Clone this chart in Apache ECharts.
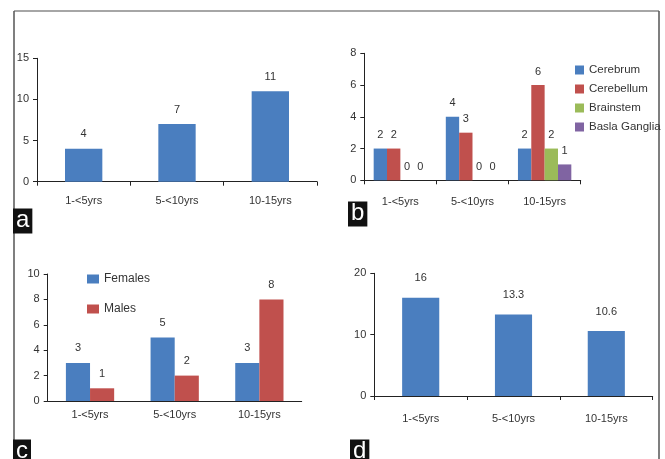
<!DOCTYPE html>
<html><head><meta charset="utf-8">
<script src="https://cdn.jsdelivr.net/npm/echarts@6/dist/echarts.min.js"></script>
<style>html,body{margin:0;padding:0;background:#fff}#c{width:665px;height:459px}</style>
</head><body><div id="c"></div>
<script>
const categories = ['1-<5yrs', '5-<10yrs', '10-15yrs'];
// panel a
const countsA = [4, 7, 11];
// panel b
const cerebrum = [2, 4, 2];
const cerebellum = [2, 3, 6];
const brainstem = [0, 0, 2];
const baslaGanglia = [0, 0, 1];
// panel c
const females = [3, 5, 3];
const males = [1, 2, 8];
// panel d
const valuesD = [16, 13.3, 10.6];

const BLUE = '#4A7EBF', RED = '#C0504D', GREEN = '#9BBB59', PURPLE = '#8064A2';
const FONT = 'Liberation Sans, Arial, sans-serif';
const lbl = (dist) => ({show: true, position: 'top', distance: dist, color: '#333', fontSize: 11, fontFamily: FONT});

function xAx(gi, margin, ticks) {
  return {type: 'category', gridIndex: gi, data: categories,
    axisLine: {lineStyle: {color: '#222', width: 1}},
    axisTick: {show: ticks, length: 4, alignWithLabel: false, lineStyle: {color: '#222'}},
    axisLabel: {color: '#333', fontSize: 11, fontFamily: FONT, margin: margin}};
}
function yAx(gi, max, interval) {
  return {type: 'value', gridIndex: gi, min: 0, max: max, interval: interval,
    axisLine: {show: true, lineStyle: {color: '#222', width: 1}},
    axisTick: {show: true, length: 4, lineStyle: {color: '#222'}},
    splitLine: {show: false},
    axisLabel: {color: '#333', fontSize: 11, fontFamily: FONT, margin: 8}};
}
const letter = (t, left, top) => ({text: t, left: left, top: top, backgroundColor: '#111', padding: [0, 3, 1, 3],
  textStyle: {color: '#fff', fontSize: 24, fontWeight: 'normal', fontFamily: FONT, lineHeight: 21}});

const chart = echarts.init(document.getElementById('c'));
chart.setOption({
  animation: false,
  backgroundColor: '#fff',
  title: [letter('a', 13, 210), letter('b', 348, 203), letter('c', 13, 441), letter('d', 350, 441)],
  grid: [
    {left: 37, top: 58.3, width: 280, height: 123.4},
    {left: 364.3, top: 53.3, width: 216.4, height: 127},
    {left: 47.7, top: 274, width: 254, height: 127},
    {left: 374.3, top: 273.3, width: 278.4, height: 122.7}
  ],
  xAxis: [xAx(0, 14, true), xAx(1, 16, true), xAx(2, 8, false), xAx(3, 17, true)],
  yAxis: [yAx(0, 15, 5), yAx(1, 8, 2), yAx(2, 10, 2), yAx(3, 20, 10)],
  legend: [
    {data: ['Cerebrum', 'Cerebellum', 'Brainstem', 'Basla Ganglia'], orient: 'vertical', left: 575, top: 64, padding: 0,
      itemWidth: 9, itemHeight: 9, itemGap: 7, icon: 'rect',
      textStyle: {color: '#333', fontSize: 11.5, fontFamily: FONT}},
    {data: ['Females', 'Males'], orient: 'vertical', left: 87, top: 273, padding: 0,
      itemWidth: 12, itemHeight: 9, itemGap: 18, icon: 'rect',
      textStyle: {color: '#333', fontSize: 12, fontFamily: FONT}}
  ],
  graphic: [
    {type: 'line', shape: {x1: 14, y1: 11, x2: 659, y2: 11}, style: {stroke: '#888', lineWidth: 1.5}},
    {type: 'line', shape: {x1: 14, y1: 11, x2: 14, y2: 459}, style: {stroke: '#555', lineWidth: 1.5}},
    {type: 'line', shape: {x1: 659, y1: 11, x2: 659, y2: 459}, style: {stroke: '#555', lineWidth: 1.5}}
  ],
  series: [
    {name: 'A', type: 'bar', xAxisIndex: 0, yAxisIndex: 0, data: countsA, barWidth: '40%',
      itemStyle: {color: BLUE}, label: lbl(9)},
    {name: 'Cerebrum', type: 'bar', xAxisIndex: 1, yAxisIndex: 1, data: cerebrum, barGap: 0, barCategoryGap: '26%',
      itemStyle: {color: BLUE}, label: lbl(8)},
    {name: 'Cerebellum', type: 'bar', xAxisIndex: 1, yAxisIndex: 1, data: cerebellum, barGap: 0, barCategoryGap: '26%',
      itemStyle: {color: RED}, label: lbl(8)},
    {name: 'Brainstem', type: 'bar', xAxisIndex: 1, yAxisIndex: 1, data: brainstem, barGap: 0, barCategoryGap: '26%',
      itemStyle: {color: GREEN}, label: lbl(8)},
    {name: 'Basla Ganglia', type: 'bar', xAxisIndex: 1, yAxisIndex: 1, data: baslaGanglia, barGap: 0, barCategoryGap: '26%',
      itemStyle: {color: PURPLE}, label: lbl(8)},
    {name: 'Females', type: 'bar', xAxisIndex: 2, yAxisIndex: 2, data: females, barGap: 0, barCategoryGap: '43%',
      itemStyle: {color: BLUE}, label: lbl(9)},
    {name: 'Males', type: 'bar', xAxisIndex: 2, yAxisIndex: 2, data: males, barGap: 0, barCategoryGap: '43%',
      itemStyle: {color: RED}, label: lbl(9)},
    {name: 'D', type: 'bar', xAxisIndex: 3, yAxisIndex: 3, data: valuesD, barWidth: '40%',
      itemStyle: {color: BLUE}, label: lbl(14)}
  ]
});
</script></body></html>
